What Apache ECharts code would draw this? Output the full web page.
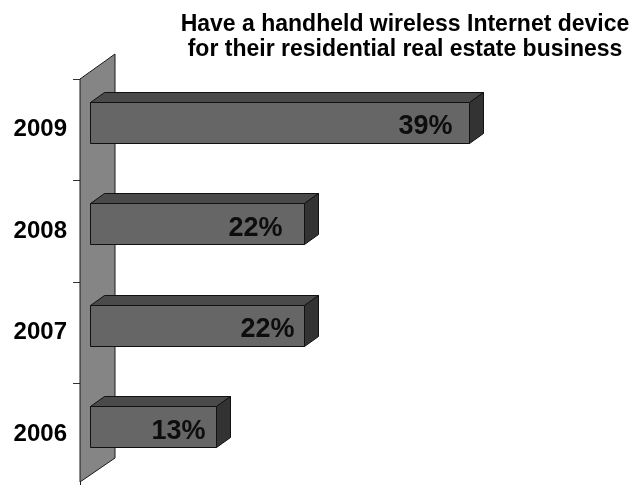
<!DOCTYPE html>
<html>
<head>
<meta charset="utf-8">
<script src="https://cdn.jsdelivr.net/npm/echarts@6/dist/echarts.min.js"></script>
<style>html,body{margin:0;padding:0;background:#fff}#c{width:641px;height:485px}</style>
</head>
<body>
<div id="c"></div>
<script>
// ---- data ----
const categories = ['2006', '2007', '2008', '2009'];
const values = [13, 22, 22, 39];
const titleLines = ['Have a handheld wireless Internet device', 'for their residential real estate business'];

// ---- style ----
const labelInset = [11, 10, 22, 17];
const DX = 14, DY = 10;

const chart = echarts.init(document.getElementById('c'), null, {renderer: 'canvas'});

const barData = values.map((v, i) => [v, categories[i], i]);

function renderWall(params, api) {
  const cs = params.coordSys;
  const xl = cs.x - 10, xr = cs.x + 25;
  const top = cs.y, bot = cs.y + cs.height - 3;
  return {
    type: 'polygon',
    shape: {points: [[xl, top], [xr, top - 25], [xr, bot - 24], [xl, bot]]},
    style: {fill: '#858585', stroke: '#1a1a1a', lineWidth: 1},
    z2: 0
  };
}

function renderBar(params, api) {
  const v = api.value(0);
  const cat = api.value(1);
  const idx = api.value(2);
  const p0 = api.coord([0, cat]);
  const p1 = api.coord([v, cat]);
  const band = api.size([0, 1])[1];
  const h = band * 0.40;
  const cy = p0[1] - band * 0.074;
  const x1 = Math.round(p0[0]) + 0.5, x2 = Math.round(p1[0]) + 0.5;
  const y1 = Math.round(cy - h / 2) + 0.5, y2 = Math.round(cy + h / 2) + 0.5;
  const stroke = '#111';
  return {
    type: 'group',
    children: [
      {type: 'polygon', shape: {points: [[x1, y1], [x1 + DX, y1 - DY], [x2 + DX, y1 - DY], [x2, y1]]},
        style: {fill: '#4a4a4a', stroke: stroke, lineWidth: 1}},
      {type: 'polygon', shape: {points: [[x2, y1], [x2 + DX, y1 - DY], [x2 + DX, y2 - DY], [x2, y2]]},
        style: {fill: '#333333', stroke: stroke, lineWidth: 1}},
      {type: 'rect', shape: {x: x1, y: y1, width: x2 - x1, height: y2 - y1},
        style: {fill: '#666666', stroke: stroke, lineWidth: 1}},
      {type: 'text', x: x2 - labelInset[idx], y: cy + 4.5,
        style: {text: v + '%', align: 'right', verticalAlign: 'middle',
          font: 'bold 27px "Liberation Sans", Arial, sans-serif', fill: '#0d0d0d'}}
    ]
  };
}

chart.setOption({
  animation: false,
  backgroundColor: '#ffffff',
  title: {
    text: titleLines.join('\n'),
    left: 400,
    top: 7,
    textAlign: 'center',
    textStyle: {fontFamily: '"Liberation Sans", Arial, sans-serif', fontWeight: 'bold', fontSize: 23, lineHeight: 25, color: '#000'}
  },
  grid: {left: 90, top: 79, width: 486, height: 408, containLabel: false},
  xAxis: {type: 'value', min: 0, max: 50, show: false},
  yAxis: {
    type: 'category',
    data: categories,
    offset: 10,
    axisLine: {show: true, onZero: false, lineStyle: {color: '#1a1a1a', width: 1}},
    axisTick: {show: true, length: 7, inside: false, lineStyle: {color: '#333', width: 1}},
    axisLabel: {margin: 13, fontFamily: '"Liberation Sans", Arial, sans-serif', fontWeight: 'bold', fontSize: 24, color: '#000'},
    splitLine: {show: false}
  },
  series: [
    {type: 'custom', renderItem: renderWall, data: [[0, categories[0]]], z: 1, silent: true, clip: false},
    {type: 'custom', renderItem: renderBar, data: barData, encode: {x: 0, y: 1}, z: 2, clip: false}
  ]
});
</script>
</body>
</html>
